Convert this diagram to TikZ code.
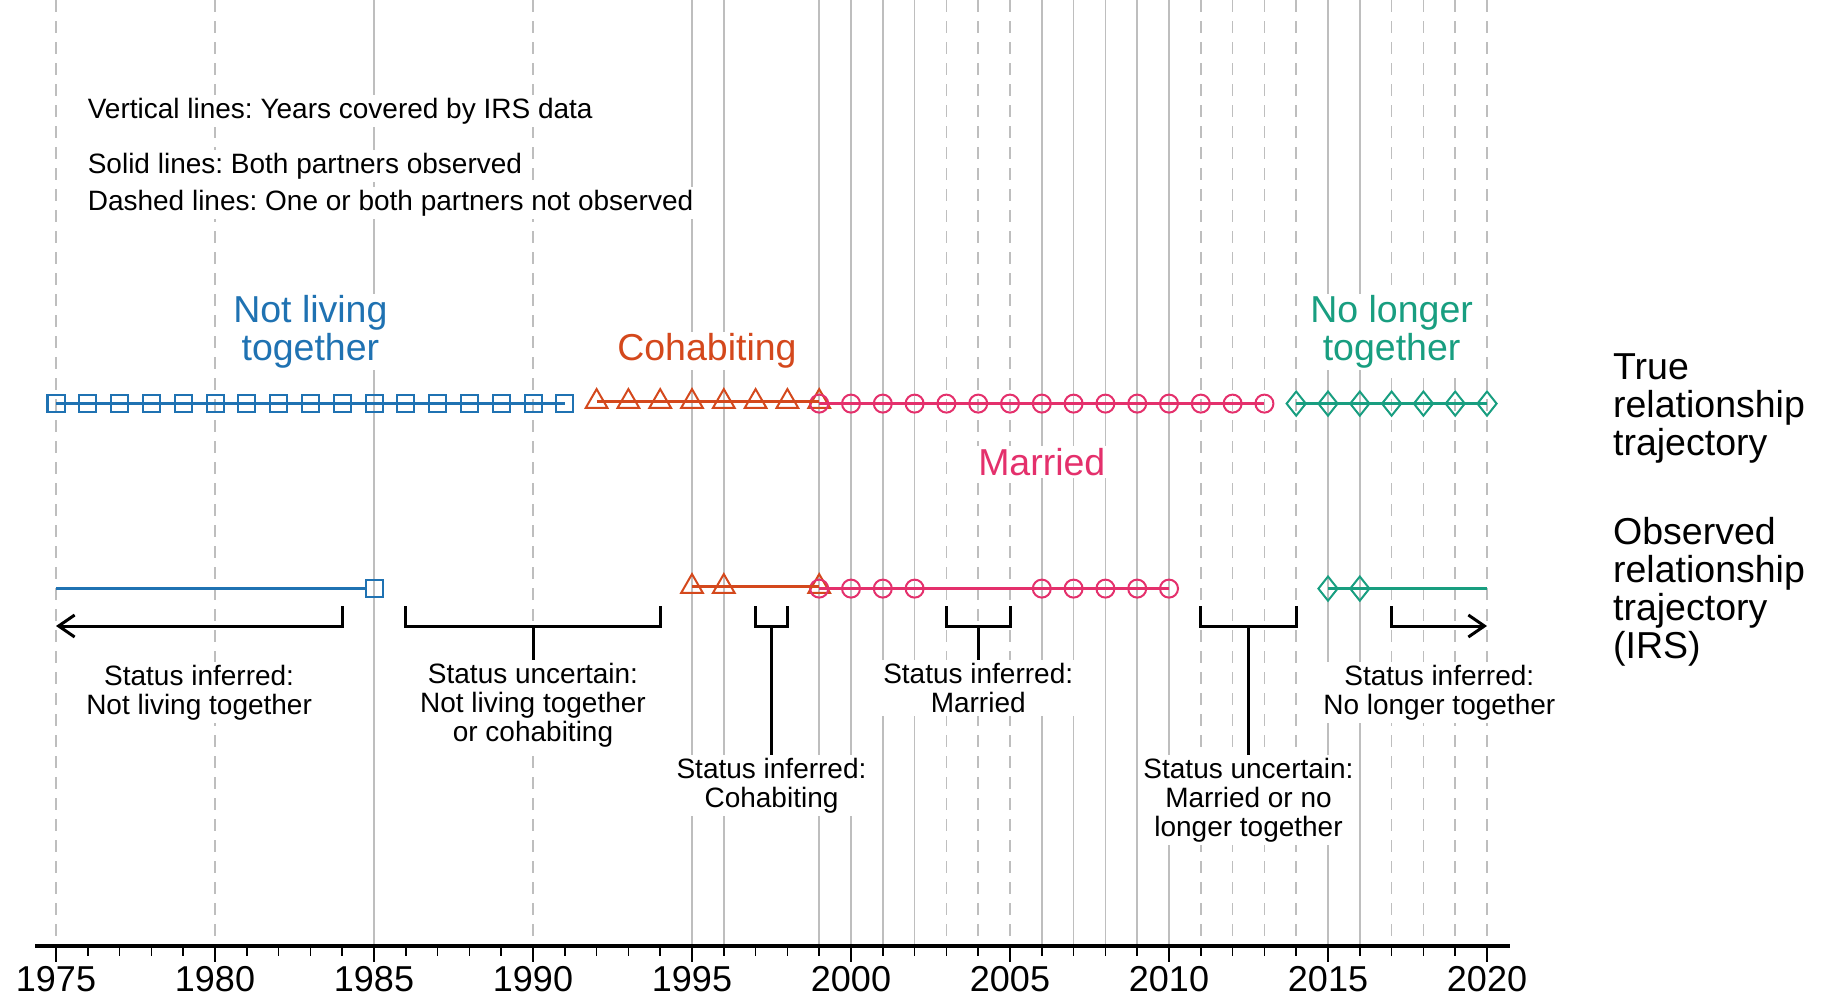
\documentclass[tikz,border=0pt]{standalone}
\usepackage{fontspec}
\setmainfont{Liberation Sans}
\usepackage{xcolor}
\usetikzlibrary{arrows.meta, positioning, shapes.geometric}
\frenchspacing

\definecolor{nltblue}{RGB}{31,114,178}
\definecolor{cohabred}{RGB}{212,72,28}
\definecolor{marrpink}{RGB}{228,48,108}
\definecolor{sepgreen}{RGB}{24,158,128}
\definecolor{linegray}{RGB}{190,190,190}

\begin{document}
\begin{tikzpicture}[
x=31.8pt, y=-1pt,
yrline/.style={linegray, line width=1.5pt},
yrdash/.style={yrline, dash pattern=on 12pt off 9pt},
sq/.style={draw, rectangle, minimum size=17pt, inner sep=0pt, line width=2pt},
tri/.style={draw, regular polygon, regular polygon sides=3, minimum size=25pt, inner sep=0pt, line width=2pt, yshift=2pt},
circ/.style={draw, circle, minimum size=18pt, inner sep=0pt, line width=2pt},
dia/.style={draw, diamond, minimum width=20pt, minimum height=25pt, inner sep=0pt, line width=2pt},
conn/.style={line width=2.5pt},
bracket/.style={line width=3pt},
arrow/.style={bracket, -{Straight Barb[length=16pt, width=22pt, line width=3pt]}},
statelabel/.style={fill=white, inner sep=2pt, align=center, font=\fontsize{37.5}{38}\selectfont},
rowlabel/.style={inner sep=0pt, anchor=west, align=left, font=\fontsize{37.5}{38}\selectfont},
note/.style={fill=white, inner sep=3pt, align=center, font=\fontsize{28}{29}\selectfont},
legend/.style={fill=white, inner sep=3pt, anchor=west, font=\fontsize{28}{29}\selectfont},
yearlbl/.style={inner sep=0pt, font=\fontsize{36}{36}\selectfont}
]

\useasboundingbox (-56pt,0pt) rectangle (1768pt,-999pt);

% years covered by IRS data
\foreach \yr in {1975,1980,1990,2003,2004,2005,2011,2012,2013,2014,2017,2018,2019,2020}
  \draw[yrdash] ({\yr-1975},0) -- ({\yr-1975},946);
\foreach \yr in {1985,1995,1996,1999,2000,2001,2002,2006,2007,2008,2009,2010,2015,2016}
  \draw[yrline] ({\yr-1975},0) -- ({\yr-1975},946);

\node[legend] (leg1) at (0.9,111) {Vertical lines: Years covered by IRS data};
\node[legend] (leg2) at (0.9,166) {Solid lines: Both partners observed};
\node[legend] (leg3) at (0.9,203) {Dashed lines: One or both partners not observed};

% true trajectory
\foreach \yr in {1975,...,1991}
  \node[sq, nltblue] (tsq\yr) at ({\yr-1975},403.6) {};
\foreach \yr in {1992,...,1999}
  \node[tri, cohabred] (ttri\yr) at ({\yr-1975},403.6) {};
\foreach \yr in {1999,...,2013}
  \node[circ, marrpink] (tcirc\yr) at ({\yr-1975},403.6) {};
\foreach \yr in {2014,...,2020}
  \node[dia, sepgreen] (tdia\yr) at ({\yr-1975},403.6) {};

\draw[conn, nltblue] (tsq1975.center) -- (tsq1991.center);
\draw[conn, cohabred] (ttri1992.center) -- (ttri1999.center);
\draw[conn, marrpink] (tcirc1999.center) -- (tcirc2013.center);
\draw[conn, sepgreen] (tdia2014.center) -- (tdia2020.center);

\node[statelabel, text=nltblue] (nltlbl) at (8,332) {Not living\\together};
\node[statelabel, text=cohabred] (cohlbl) at (20.47,351) {Cohabiting};
\node[statelabel, text=marrpink] (marlbl) at (31,462) {Married};
\node[statelabel, text=sepgreen] (seplbl) at (42,332) {No longer\\together};

% observed trajectory (IRS)
\coordinate (obsstart) at (0,588.6);
\coordinate (obsend) at (45,588.6);
\node[sq, nltblue] (osq1985) at (10,588.6) {};
\foreach \yr in {1995,1996,1999}
  \node[tri, cohabred] (otri\yr) at ({\yr-1975},588.6) {};
\foreach \yr in {1999,2000,2001,2002,2006,2007,2008,2009,2010}
  \node[circ, marrpink] (ocirc\yr) at ({\yr-1975},588.6) {};
\foreach \yr in {2015,2016}
  \node[dia, sepgreen] (odia\yr) at ({\yr-1975},588.6) {};

\draw[conn, nltblue] (obsstart) -- (osq1985.west);
\draw[conn, cohabred] (otri1995.center) -- (otri1999.center);
\draw[conn, marrpink] (ocirc1999.center) -- (ocirc2010.center);
\draw[conn, sepgreen] (odia2015.center) -- (obsend);

\node[rowlabel] (truelbl) at (48.96,408) {True\\relationship\\trajectory};
\node[rowlabel] (obslbl) at (48.96,592) {Observed\\relationship\\trajectory\\(IRS)};

% brackets
\coordinate (b1a) at (9,606);
\coordinate (b1b) at (0,626);
\coordinate (b2a) at (11,606);
\coordinate (b2b) at (19,606);
\coordinate (b2m) at (15,626);
\coordinate (b3a) at (22,606);
\coordinate (b3b) at (23,606);
\coordinate (b3m) at (22.5,626);
\coordinate (b4a) at (28,606);
\coordinate (b4b) at (30,606);
\coordinate (b4m) at (29,626);
\coordinate (b5a) at (36,606);
\coordinate (b5b) at (39,606);
\coordinate (b5m) at (37.5,626);
\coordinate (b6a) at (42,606);
\coordinate (b6b) at (45,626);

\node[note, anchor=north] (inf1) at (4.5,662) {Status inferred:\\Not living together};
\node[note, anchor=north] (unc1) at (15,660) {Status uncertain:\\Not living together\\or cohabiting};
\node[note, anchor=north] (inf2) at (22.5,755) {Status inferred:\\Cohabiting};
\node[note, anchor=north] (inf3) at (29,660) {Status inferred:\\Married};
\node[note, anchor=north] (unc2) at (37.5,755) {Status uncertain:\\Married or no\\longer together};
\node[note, anchor=north] (inf4) at (43.5,662) {Status inferred:\\No longer together};

\draw[arrow] (b1a) |- (b1b);
\draw[bracket] (b2a) -- ++(0,20) -| (b2b);
\draw[bracket] (b2m) -- (unc1.north);
\draw[bracket] (b3a) -- ++(0,20) -| (b3b);
\draw[bracket] (b3m) -- (inf2.north);
\draw[bracket] (b4a) -- ++(0,20) -| (b4b);
\draw[bracket] (b4m) -- (inf3.north);
\draw[bracket] (b5a) -- ++(0,20) -| (b5b);
\draw[bracket] (b5m) -- (unc2.north);
\draw[arrow] (b6a) |- (b6b);

% time axis
\draw[line width=3.5pt] (-0.66,946) -- (45.72,946);
\foreach \i in {0,...,45}
  \draw[line width=1.5pt] (\i,946) -- (\i,956);
\foreach \yr in {1975,1980,...,2020} {
  \draw[line width=2pt] ({\yr-1975},946) -- ({\yr-1975},962);
  \node[yearlbl] (yl\yr) at ({\yr-1975},979) {\yr};
}

\end{tikzpicture}
\end{document}
